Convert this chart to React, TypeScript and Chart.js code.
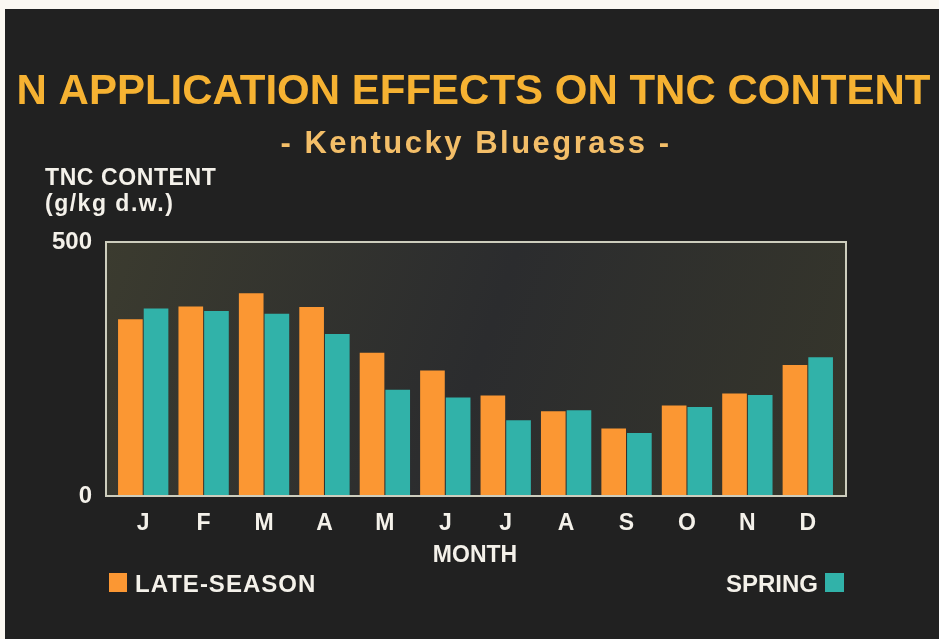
import React, { useEffect, useRef } from "react";
import { Chart, registerables } from "chart.js";

Chart.register(...registerables);

const months = ["J", "F", "M", "A", "M", "J", "J", "A", "S", "O", "N", "D"];
const lateSeason = [348, 373, 399, 372, 282, 247, 198, 167, 133, 178, 202, 258];
const spring = [369, 364, 359, 319, 209, 194, 149, 169, 124, 175, 199, 273];
const yTicks = [0, 500];
const seriesNames = ["LATE-SEASON", "SPRING"];
const titleText = "N APPLICATION EFFECTS ON TNC CONTENT";
const subtitleText = "- Kentucky Bluegrass -";
const yTitleLines = ["TNC CONTENT", "(g/kg d.w.)"];
const xTitleText = "MONTH";

const FONT = '"Liberation Sans", Arial, Helvetica, sans-serif';
const ORANGE = "#fb9733";
const TEAL = "#31b2a9";
const WHITE = "#f4f1ea";

const decorPlugin = {
  id: "decor",
  beforeDraw(chart: any) {
    const { ctx, width, height, chartArea: a } = chart;
    ctx.save();
    ctx.fillStyle = "#fbf8f2";
    ctx.fillRect(0, 0, width, height);
    ctx.fillStyle = "#212121";
    ctx.fillRect(5, 9, width - 5, height - 9);
    const L = a.left - 7;
    const R = a.right + 8;
    const g = ctx.createLinearGradient(L, a.top, R, a.bottom);
    g.addColorStop(0, "#3b3b2f");
    g.addColorStop(0.5, "#2b2c2e");
    g.addColorStop(1, "#36362b");
    ctx.fillStyle = g;
    ctx.fillRect(L, a.top, R - L, a.bottom - a.top);
    ctx.restore();
  },
  afterDatasetsDraw(chart: any) {
    const { ctx, chartArea: a } = chart;
    const L = a.left - 7;
    const R = a.right + 8;
    ctx.save();
    ctx.strokeStyle = "#cdcdbd";
    ctx.lineWidth = 2;
    ctx.strokeRect(L, a.top, R - L, a.bottom - a.top);
    ctx.restore();
  },
  afterDraw(chart: any) {
    const { ctx } = chart;
    ctx.save();
    ctx.textBaseline = "alphabetic";
    // Title
    ctx.fillStyle = "#f6b232";
    ctx.font = `bold 42px ${FONT}`;
    ctx.textAlign = "center";
    ctx.fillText(titleText, 473.5, 104);
    // Subtitle
    ctx.fillStyle = "#f3be68";
    ctx.font = `bold 31px ${FONT}`;
    (ctx as any).letterSpacing = "2.5px";
    ctx.fillText(subtitleText, 476, 153);
    // Y title
    ctx.fillStyle = WHITE;
    ctx.textAlign = "left";
    ctx.font = `bold 23px ${FONT}`;
    (ctx as any).letterSpacing = "0.6px";
    ctx.fillText(yTitleLines[0], 45, 185);
    (ctx as any).letterSpacing = "1.5px";
    ctx.fillText(yTitleLines[1], 45, 211);
    (ctx as any).letterSpacing = "0px";
    // X title
    ctx.textAlign = "center";
    ctx.fillText(xTitleText, 475, 562);
    // Legend
    ctx.font = `bold 24px ${FONT}`;
    ctx.fillStyle = ORANGE;
    ctx.fillRect(109, 573, 18, 19);
    ctx.fillStyle = WHITE;
    ctx.textAlign = "left";
    (ctx as any).letterSpacing = "1px";
    ctx.fillText(seriesNames[0], 135, 592);
    (ctx as any).letterSpacing = "0px";
    ctx.textAlign = "right";
    ctx.fillText(seriesNames[1], 818, 592);
    ctx.fillStyle = TEAL;
    ctx.fillRect(825, 573, 19, 19);
    ctx.restore();
  },
};

export default function App() {
  const ref = useRef<HTMLCanvasElement | null>(null);
  useEffect(() => {
    if (!ref.current) return;
    const chart = new Chart(ref.current, {
      type: "bar",
      data: {
        labels: months,
        datasets: [
          {
            label: seriesNames[0],
            data: lateSeason,
            backgroundColor: ORANGE,
            borderWidth: 0,
            categoryPercentage: 0.85,
            barPercentage: 0.96,
          },
          {
            label: seriesNames[1],
            data: spring,
            backgroundColor: TEAL,
            borderWidth: 0,
            categoryPercentage: 0.85,
            barPercentage: 0.96,
          },
        ],
      },
      options: {
        responsive: false,
        animation: false,
        devicePixelRatio: 1,
        layout: { padding: { top: 242, right: 101, left: 0, bottom: 0 } },
        plugins: {
          legend: { display: false },
          title: { display: false },
          tooltip: { enabled: false },
        },
        scales: {
          x: {
            grid: { display: false, drawTicks: false },
            border: { display: false },
            ticks: {
              color: WHITE,
              font: { family: FONT, size: 23, weight: "bold" },
              padding: 14,
              maxRotation: 0,
              autoSkip: false,
            },
            afterFit: (s: any) => {
              s.height = 143;
            },
          },
          y: {
            min: 0,
            max: 500,
            grid: { display: false, drawTicks: false },
            border: { display: false },
            ticks: {
              color: WHITE,
              font: { family: FONT, size: 24, weight: "bold" },
              padding: 21,
              stepSize: 500,
            },
            afterBuildTicks: (s: any) => {
              s.ticks = yTicks.map((v) => ({ value: v }));
            },
            afterFit: (s: any) => {
              s.width = 113;
            },
          },
        },
      },
      plugins: [decorPlugin],
    });
    return () => chart.destroy();
  }, []);
  return (
    <div style={{ position: "fixed", left: 0, top: 0, width: 939, height: 639 }}>
      <canvas ref={ref} width={939} height={639} style={{ display: "block" }} />
    </div>
  );
}
